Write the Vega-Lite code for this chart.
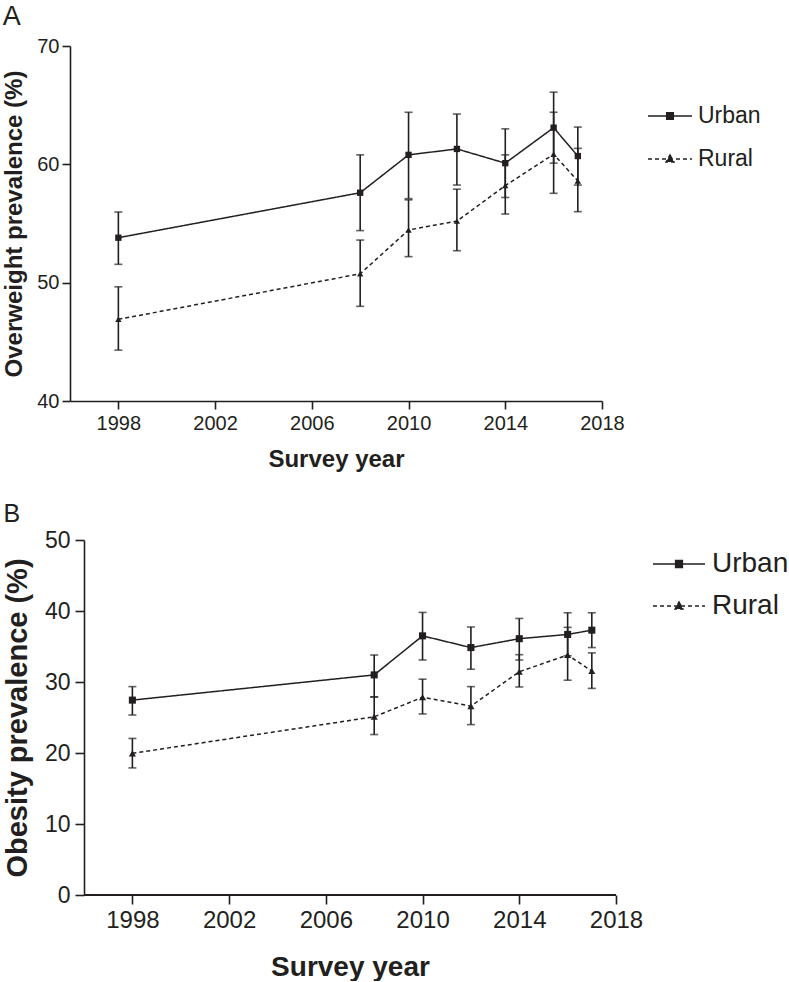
{
  "$schema": "https://vega.github.io/schema/vega-lite/v6.json",
  "padding": {"left": 2, "top": 3, "right": 0, "bottom": 0},
  "datasets": {
    "A": [
      {"area": "Urban", "year": 1998, "value": 53.8, "lower": 51.55, "upper": 55.97},
      {"area": "Urban", "year": 2008, "value": 57.6, "lower": 54.4, "upper": 60.8},
      {"area": "Urban", "year": 2010, "value": 60.8, "lower": 57.1, "upper": 64.4},
      {"area": "Urban", "year": 2012, "value": 61.3, "lower": 58.25, "upper": 64.25},
      {"area": "Urban", "year": 2014, "value": 60.1, "lower": 57.2, "upper": 63.0},
      {"area": "Urban", "year": 2016, "value": 63.1, "lower": 60.1, "upper": 66.1},
      {"area": "Urban", "year": 2017, "value": 60.7, "lower": 58.25, "upper": 63.15},
      {"area": "Rural", "year": 1998, "value": 46.9, "lower": 44.3, "upper": 49.65},
      {"area": "Rural", "year": 2008, "value": 50.75, "lower": 48.0, "upper": 53.6},
      {"area": "Rural", "year": 2010, "value": 54.45, "lower": 52.2, "upper": 57.0},
      {"area": "Rural", "year": 2012, "value": 55.2, "lower": 52.7, "upper": 57.9},
      {"area": "Rural", "year": 2014, "value": 58.2, "lower": 55.8, "upper": 60.8},
      {"area": "Rural", "year": 2016, "value": 60.85, "lower": 57.55, "upper": 64.4},
      {"area": "Rural", "year": 2017, "value": 58.6, "lower": 56.0, "upper": 61.35}
    ],
    "B": [
      {"area": "Urban", "year": 1998, "value": 27.45, "lower": 25.35, "upper": 29.35},
      {"area": "Urban", "year": 2008, "value": 31.0, "lower": 27.9, "upper": 33.8},
      {"area": "Urban", "year": 2010, "value": 36.5, "lower": 33.1, "upper": 39.8},
      {"area": "Urban", "year": 2012, "value": 34.85, "lower": 31.8, "upper": 37.75},
      {"area": "Urban", "year": 2014, "value": 36.1, "lower": 33.1, "upper": 38.95},
      {"area": "Urban", "year": 2016, "value": 36.7, "lower": 33.7, "upper": 39.75},
      {"area": "Urban", "year": 2017, "value": 37.3, "lower": 34.85, "upper": 39.75},
      {"area": "Rural", "year": 1998, "value": 19.95, "lower": 17.9, "upper": 22.05},
      {"area": "Rural", "year": 2008, "value": 25.1, "lower": 22.6, "upper": 27.9},
      {"area": "Rural", "year": 2010, "value": 27.85, "lower": 25.5, "upper": 30.4},
      {"area": "Rural", "year": 2012, "value": 26.6, "lower": 24.0, "upper": 29.35},
      {"area": "Rural", "year": 2014, "value": 31.45, "lower": 29.3, "upper": 33.85},
      {"area": "Rural", "year": 2016, "value": 33.8, "lower": 30.25, "upper": 37.7},
      {"area": "Rural", "year": 2017, "value": 31.55, "lower": 29.1, "upper": 34.1}
    ]
  },
  "vconcat": [
    {
      "title": {"text": "A", "anchor": "start", "frame": "bounds", "fontSize": 27, "fontWeight": "normal", "color": "#231f20", "font": "Liberation Sans", "offset": 5},
      "width": 532,
      "height": 355,
      "data": {"name": "A"},
      "encoding": {
        "x": {"field": "year", "type": "quantitative", "scale": {"domain": [1996, 2018], "nice": false, "zero": false},
          "axis": {"title": "Survey year", "values": [1998, 2002, 2006, 2010, 2014, 2018], "format": "d", "labelFontSize": 20, "titleFontSize": 24, "titleFontWeight": "bold", "tickSize": 8, "labelPadding": 4, "titlePadding": 14, "labelFlush": false}}
      },
      "layer": [
        {
          "mark": {"type": "errorbar", "ticks": {"size": 8, "thickness": 1.6, "color": "#231f20"}, "rule": {"strokeWidth": 1.6, "color": "#231f20"}},
          "encoding": {
            "y": {"field": "lower", "type": "quantitative", "scale": {"domain": [40, 70], "nice": false, "zero": false},
              "axis": {"title": "Overweight prevalence (%)", "values": [40, 50, 60, 70], "labelFontSize": 20, "titleFontSize": 24, "titleFontWeight": "bold", "tickSize": 8, "labelPadding": 3, "titlePadding": 10}},
            "y2": {"field": "upper"},
            "detail": {"field": "area", "type": "nominal"}
          }
        },
        {
          "mark": {"type": "line", "strokeWidth": 1.5, "color": "#231f20"},
          "encoding": {
            "y": {"field": "value", "type": "quantitative", "scale": {"domain": [40, 70], "nice": false, "zero": false},
              "axis": {"title": "Overweight prevalence (%)", "values": [40, 50, 60, 70], "labelFontSize": 20, "titleFontSize": 24, "titleFontWeight": "bold", "tickSize": 8, "labelPadding": 3, "titlePadding": 10}},
            "strokeDash": {"field": "area", "type": "nominal", "scale": {"domain": ["Urban", "Rural"], "range": [[1, 0], [4, 3]]},
              "legend": {"title": null, "orient": "none", "legendX": 577, "legendY": 47, "symbolType": "stroke", "symbolSize": 1936, "symbolStrokeWidth": 1.5, "symbolStrokeColor": "#231f20", "labelFontSize": 23, "labelColor": "#231f20", "labelOffset": 5, "rowPadding": 8,
                "encode": {"symbols": {"update": {
                  "shape": {"signal": "datum.value === 'Urban' ? 'M-1,0H1M-0.15,-0.15H0.15V0.15H-0.15Z' : 'M-1,0H1M0,-0.18L0.18,0.14H-0.18Z'"},
                  "fill": {"value": "#231f20"},
                  "stroke": {"value": "#231f20"}}}}}}
          }
        },
        {
          "mark": {"type": "point", "filled": true, "color": "#231f20", "size": 40, "opacity": 1},
          "encoding": {
            "y": {"field": "value", "type": "quantitative", "scale": {"domain": [40, 70], "nice": false, "zero": false},
              "axis": {"title": "Overweight prevalence (%)", "values": [40, 50, 60, 70], "labelFontSize": 20, "titleFontSize": 24, "titleFontWeight": "bold", "tickSize": 8, "labelPadding": 3, "titlePadding": 10}},
            "shape": {"field": "area", "type": "nominal", "scale": {"range": ["triangle-up", "square"]}, "legend": null}
          }
        }
      ]
    },
    {
      "title": {"text": "B", "anchor": "start", "frame": "bounds", "fontSize": 25, "fontWeight": "normal", "color": "#231f20", "font": "Liberation Sans", "offset": 2},
      "width": 546,
      "height": 355,
      "data": {"name": "B"},
      "encoding": {
        "x": {"field": "year", "type": "quantitative", "scale": {"domain": [1995.42, 2018], "nice": false, "zero": false},
          "axis": {"title": "Survey year", "values": [1998, 2002, 2006, 2010, 2014, 2018], "format": "d", "domain": false, "labelFontSize": 24, "titleFontSize": 28, "titleFontWeight": "bold", "tickSize": 9, "labelPadding": 4, "titlePadding": 21, "labelFlush": false, "titleX": 280}}
      },
      "layer": [
        {
          "mark": {"type": "rule", "strokeWidth": 1.6, "color": "#231f20"},
          "encoding": {
            "x": {"datum": 1996, "type": "quantitative"},
            "x2": {"datum": 2018},
            "y": {"datum": 0, "type": "quantitative", "scale": {"domain": [0, 50], "nice": false},
              "axis": {"title": "Obesity prevalence (%)", "values": [0, 10, 20, 30, 40, 50], "labelFontSize": 23, "titleFontSize": 29, "titleFontWeight": "bold", "tickSize": 9, "labelPadding": 5, "titlePadding": 12, "offset": -14}}
          }
        },
        {
          "mark": {"type": "errorbar", "ticks": {"size": 8, "thickness": 1.6, "color": "#231f20"}, "rule": {"strokeWidth": 1.6, "color": "#231f20"}},
          "encoding": {
            "y": {"field": "lower", "type": "quantitative", "scale": {"domain": [0, 50], "nice": false},
              "axis": {"title": "Obesity prevalence (%)", "values": [0, 10, 20, 30, 40, 50], "labelFontSize": 23, "titleFontSize": 29, "titleFontWeight": "bold", "tickSize": 9, "labelPadding": 5, "titlePadding": 12, "offset": -14}},
            "y2": {"field": "upper"},
            "detail": {"field": "area", "type": "nominal"}
          }
        },
        {
          "mark": {"type": "line", "strokeWidth": 1.5, "color": "#231f20"},
          "encoding": {
            "y": {"field": "value", "type": "quantitative", "scale": {"domain": [0, 50], "nice": false},
              "axis": {"title": "Obesity prevalence (%)", "values": [0, 10, 20, 30, 40, 50], "labelFontSize": 23, "titleFontSize": 29, "titleFontWeight": "bold", "tickSize": 9, "labelPadding": 5, "titlePadding": 12, "offset": -14}},
            "strokeDash": {"field": "area", "type": "nominal", "scale": {"domain": ["Urban", "Rural"], "range": [[1, 0], [4, 3]]},
              "legend": {"title": null, "orient": "none", "legendX": 582, "legendY": -3, "symbolType": "stroke", "symbolSize": 2704, "symbolStrokeWidth": 1.5, "symbolStrokeColor": "#231f20", "labelFontSize": 28, "labelColor": "#231f20", "labelOffset": 6, "rowPadding": 1,
                "encode": {"symbols": {"update": {
                  "shape": {"signal": "datum.value === 'Urban' ? 'M-1,0H1M-0.13,-0.13H0.13V0.13H-0.13Z' : 'M-1,0H1M0,-0.15L0.15,0.12H-0.15Z'"},
                  "fill": {"value": "#231f20"},
                  "stroke": {"value": "#231f20"}}}}}}
          }
        },
        {
          "mark": {"type": "point", "filled": true, "color": "#231f20", "size": 50, "opacity": 1},
          "encoding": {
            "y": {"field": "value", "type": "quantitative", "scale": {"domain": [0, 50], "nice": false},
              "axis": {"title": "Obesity prevalence (%)", "values": [0, 10, 20, 30, 40, 50], "labelFontSize": 23, "titleFontSize": 29, "titleFontWeight": "bold", "tickSize": 9, "labelPadding": 5, "titlePadding": 12, "offset": -14}},
            "shape": {"field": "area", "type": "nominal", "scale": {"range": ["triangle-up", "square"]}, "legend": null}
          }
        }
      ]
    }
  ],
  "spacing": 31,
  "resolve": {"scale": {"strokeDash": "independent", "shape": "independent", "x": "independent", "y": "independent"}, "legend": {"strokeDash": "independent", "shape": "independent"}},
  "config": {
    "view": {"stroke": null},
    "font": "Liberation Sans",
    "axis": {"grid": false, "domainColor": "#231f20", "tickColor": "#231f20", "labelColor": "#231f20", "titleColor": "#231f20", "domainWidth": 1.6, "tickWidth": 1.6, "labelFont": "Liberation Sans", "titleFont": "Liberation Sans"},
    "legend": {"labelFont": "Liberation Sans"}
  }
}
